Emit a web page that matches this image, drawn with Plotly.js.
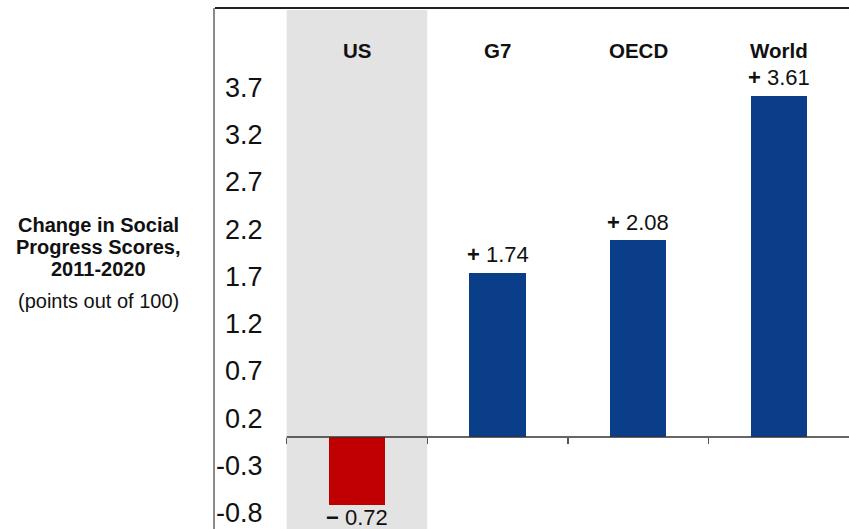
<!DOCTYPE html>
<html>
<head>
<meta charset="utf-8">
<script src="https://cdn.plot.ly/plotly-3.0.1.min.js"></script>
<style>
  html, body { margin: 0; padding: 0; background: #ffffff; }
  #chart { width: 849px; height: 529px; }
</style>
</head>
<body>
<div id="chart"></div>
<script>
// ---- data ----
const categories = ["US", "G7", "OECD", "World"];
const changes = [-0.72, 1.74, 2.08, 3.61];
const barColors = ["#c00000", "#0a3e88", "#0a3e88", "#0a3e88"];
const valueLabels = ["<b>\u2212</b> 0.72", "<b>+</b> 1.74", "<b>+</b> 2.08", "<b>+</b> 3.61"];
const yTickVals = [-0.8, -0.3, 0.2, 0.7, 1.2, 1.7, 2.2, 2.7, 3.2, 3.7];
const yTickText = ["-0.8", "-0.3", "0.2", "0.7", "1.2", "1.7", "2.2", "2.7", "3.2", "3.7"];
const titleLines = ["<b>Change in Social</b>", "<b>Progress Scores,</b>", "<b>2011-2020</b>", "(points out of 100)"];
const titleLineY = [0.583, 0.541, 0.499, 0.438];
const xTickVals = [-0.5, 0.5, 1.5, 2.5];

// ---- layout helpers ----
const W = 849, H = 529;
const M = { l: 215, r: 0, t: 8, b: 0 };
const yRange = [-0.974, 4.54];
const xRange = [-1.01, 3.5];
const zeroFrac = (0 - yRange[0]) / (yRange[1] - yRange[0]);
const FONT = "Arial, 'Liberation Sans', Helvetica, sans-serif";
const xIdx = categories.map((c, i) => i);

const trace = {
  type: "bar",
  x: xIdx,
  y: changes,
  width: 0.4,
  marker: { color: barColors, line: { width: 0 } },
  hoverinfo: "skip",
  cliponaxis: false
};

const annotations = [];
// value labels
changes.forEach((v, i) => {
  annotations.push({
    x: xIdx[i], y: v, xref: "x", yref: "y",
    text: valueLabels[i], showarrow: false,
    xanchor: "center", yanchor: "middle",
    yshift: v >= 0 ? 18 : -12,
    font: { family: FONT, size: 22, color: "#111111" }
  });
});
// category labels on top
categories.forEach((c, i) => {
  annotations.push({
    x: xIdx[i], y: 0.919, xref: "x", yref: "paper",
    text: "<b>" + c + "</b>", showarrow: false,
    xanchor: "center", yanchor: "middle",
    font: { family: FONT, size: 20.5, color: "#111111" }
  });
});
// axis title block on the left
titleLines.forEach((t, i) => {
  annotations.push({
    x: -0.184, y: titleLineY[i], xref: "paper", yref: "paper",
    text: t, showarrow: false,
    xanchor: "center", yanchor: "middle",
    font: { family: FONT, size: 20, color: "#111111" }
  });
});

const layout = {
  width: W, height: H,
  margin: M,
  paper_bgcolor: "#ffffff",
  plot_bgcolor: "rgba(0,0,0,0)",
  showlegend: false,
  font: { family: FONT, color: "#111111" },
  xaxis: {
    type: "linear",
    range: xRange,
    anchor: "free",
    position: zeroFrac,
    showline: false,
    showgrid: false,
    zeroline: false,
    showticklabels: false,
    ticks: "outside",
    ticklen: 6,
    tickwidth: 1.5,
    tickcolor: "#555555",
    tickmode: "array",
    tickvals: xTickVals,
    fixedrange: true
  },
  yaxis: {
    range: yRange,
    showgrid: false,
    zeroline: false,
    showline: true,
    linecolor: "#8a8a8a",
    linewidth: 2,
    ticks: "",
    tickmode: "array",
    tickvals: yTickVals,
    ticktext: yTickText,
    ticklabelstandoff: -55,
    tickfont: { family: FONT, size: 27, color: "#111111" },
    fixedrange: true
  },
  shapes: [
    { type: "rect", xref: "x", yref: "paper", x0: -0.5, x1: 0.5, y0: 0, y1: 0.996,
      fillcolor: "#e3e3e3", line: { width: 0 }, layer: "below" },
    { type: "line", xref: "x", yref: "y", x0: -0.5, x1: 3.5, y0: 0, y1: 0,
      line: { color: "#333333", width: 1.5 }, layer: "above" },
    { type: "line", xref: "paper", yref: "paper", x0: 0, x1: 1, y0: 1, y1: 1,
      line: { color: "#222222", width: 2 } }
  ],
  annotations: annotations,
  bargap: 0
};

Plotly.newPlot("chart", [trace], layout, { displayModeBar: false, staticPlot: true });
</script>
</body>
</html>
